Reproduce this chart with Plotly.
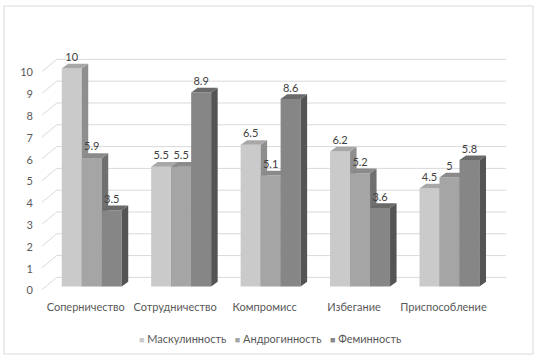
import plotly.graph_objects as go

# ---- data ----
categories = ["Соперничество", "Сотрудничество", "Компромисс", "Избегание", "Приспособление"]
series_names = ["Маскулинность", "Андрогинность", "Феминность"]
masc = [10, 5.5, 6.5, 6.2, 4.5]
andr = [5.9, 5.5, 5.1, 5.2, 5]
fem = [3.5, 8.9, 8.6, 3.6, 5.8]
y_ticks = [0, 1, 2, 3, 4, 5, 6, 7, 8, 9, 10]

# ---- style ----
front_col = ["#cacaca", "#a5a5a5", "#868686"]
top_col = ["#a8a8a8", "#8a8a8a", "#6a6a6a"]
side_col = ["#8e8e8e", "#707070", "#545454"]
FONT = "Lato, 'Open Sans', sans-serif"
W, H = 544, 363
ML, MR, MT, MB = 42, 36, 50, 71
XR = [-0.556, 4.654]
YR = [-0.25, 10.85]
w = 0.2236          # bar width (x units)
dx, dy = 0.0727, 0.216  # 3D depth offset (data units)
back_dy, front_dy = 0.42, -0.14
back_x0, back_x1 = -0.391, 4.632

fig = go.Figure()

# gridlines (back wall + left floor diagonals)
gx, gy = [], []
for v in y_ticks:
    gx += [XR[0], back_x0, back_x1, None]
    gy += [v + front_dy, v + back_dy, v + back_dy, None]
fig.add_trace(go.Scatter(x=gx, y=gy, mode="lines", line=dict(color="#d9d9d9", width=1),
                         hoverinfo="skip", showlegend=False))

all_vals = [masc, andr, fem]
for j, vals in enumerate(all_vals):
    fx, fy, sx, sy, tx, ty = [], [], [], [], [], []
    for i, v in enumerate(vals):
        xc = i + (j - 1) * w
        a, b = xc - w / 2, xc + w / 2
        fx += [a, b, b, a, a, None]
        fy += [0, 0, v, v, 0, None]
        sx += [b, b + dx, b + dx, b, b, None]
        sy += [0, dy, v + dy, v, 0, None]
        tx += [a, b, b + dx, a + dx, a, None]
        ty += [v, v, v + dy, v + dy, v, None]
    for px, py, col in [(fx, fy, front_col[j]), (sx, sy, side_col[j]), (tx, ty, top_col[j])]:
        fig.add_trace(go.Scatter(x=px, y=py, mode="lines", fill="toself", fillcolor=col,
                                 line=dict(width=0, color=col), hoverinfo="skip",
                                 showlegend=False, name=series_names[j]))

# data labels
for j, vals in enumerate(all_vals):
    xs = [i + (j - 1) * w for i in range(len(vals))]
    ys = [v + dy for v in vals]
    fig.add_trace(go.Scatter(x=xs, y=ys, mode="text", text=[f"{v:g}" for v in vals],
                             textposition="top center",
                             textfont=dict(family=FONT, size=11, color="#404040"),
                             hoverinfo="skip", showlegend=False, cliponaxis=False))

# legend as text
sq = "<span style='font-size:9px;color:{c}'>■</span>"
leg = "   ".join(sq.format(c=front_col[j]) + " " + series_names[j] for j in range(3))
pw = W - ML - MR
ph = H - MT - MB
fig.add_annotation(x=(270 - ML) / pw, y=(H - MB - 338) / ph, xref="paper", yref="paper",
                   text=leg, showarrow=False, font=dict(family=FONT, size=11, color="#595959"),
                   xanchor="center", yanchor="middle")

# outer border
fig.add_shape(type="rect", xref="paper", yref="paper",
              x0=(4 - ML) / pw, x1=(533 - ML) / pw,
              y0=(H - MB - 354) / ph, y1=(H - MB - 6) / ph,
              line=dict(color="#d9d9d9", width=1), layer="below")

fig.update_layout(
    width=W, height=H, margin=dict(l=ML, r=MR, t=MT, b=MB),
    paper_bgcolor="white", plot_bgcolor="white", showlegend=False,
    font=dict(family=FONT, size=11, color="#595959"),
    xaxis=dict(range=XR, tickvals=list(range(len(categories))), ticktext=categories,
               showgrid=False, zeroline=False, showline=False, ticks="",
               ticklabelshift=-6, ticklabelstandoff=7, automargin=False,
               tickfont=dict(family=FONT, size=11, color="#595959")),
    yaxis=dict(range=YR, tickvals=y_ticks, ticktext=[str(t) for t in y_ticks],
               showgrid=False, zeroline=False, showline=False, ticks="",
               ticklabelshift=4, ticklabelstandoff=8, automargin=False,
               tickfont=dict(family=FONT, size=11, color="#595959")),
)

fig.write_html("out.html", config={"displayModeBar": False},
               post_script="document.body.style.margin='0';")
